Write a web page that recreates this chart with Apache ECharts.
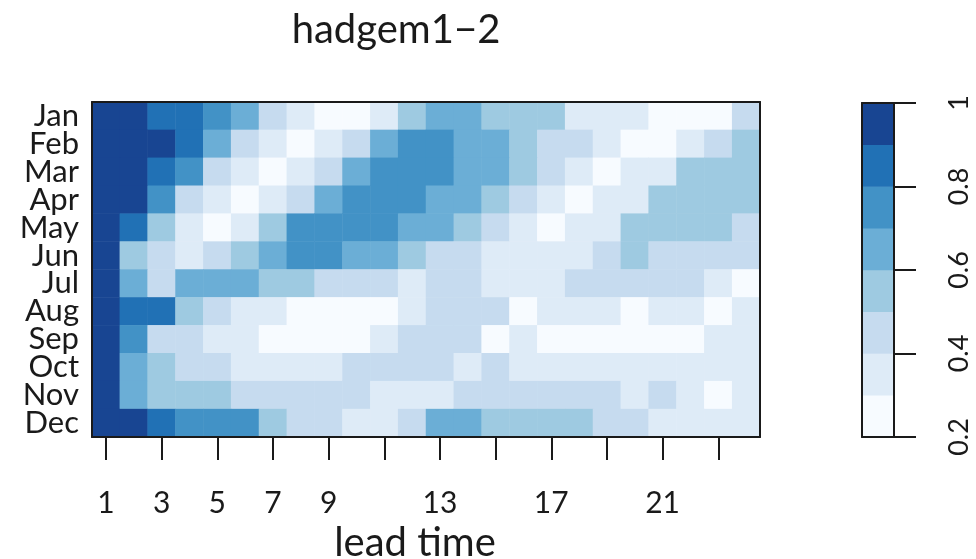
<!DOCTYPE html>
<html>
<head>
<meta charset="utf-8">
<script src="https://cdn.jsdelivr.net/npm/echarts/dist/echarts.min.js"></script>
<style>
  html, body { margin: 0; padding: 0; background: #fff; }
  #chart { width: 976px; height: 559px; }
</style>
</head>
<body>
<div id="chart"></div>
<script>
// Skill score by start month (rows) and lead time (columns)
const months = ['Jan', 'Feb', 'Mar', 'Apr', 'May', 'Jun', 'Jul', 'Aug', 'Sep', 'Oct', 'Nov', 'Dec'];
const leadTimes = Array.from({ length: 24 }, (_, i) => String(i + 1));
const shownLeadLabels = ['1', '3', '5', '7', '9', '13', '17', '21'];
const colorbarTicks = [0.2, 0.4, 0.6, 0.8, 1];

const skill = [
  [0.95,0.95,0.85,0.85,0.75,0.65,0.45,0.35,0.25,0.25,0.35,0.55,0.65,0.65,0.55,0.55,0.55,0.35,0.35,0.35,0.25,0.25,0.25,0.45],
  [0.95,0.95,0.95,0.85,0.65,0.45,0.35,0.25,0.35,0.45,0.65,0.75,0.75,0.65,0.65,0.55,0.45,0.45,0.35,0.25,0.25,0.35,0.45,0.55],
  [0.95,0.95,0.85,0.75,0.45,0.35,0.25,0.35,0.45,0.65,0.75,0.75,0.75,0.65,0.65,0.55,0.45,0.35,0.25,0.35,0.35,0.55,0.55,0.55],
  [0.95,0.95,0.75,0.45,0.35,0.25,0.35,0.45,0.65,0.75,0.75,0.75,0.65,0.65,0.55,0.45,0.35,0.25,0.35,0.35,0.55,0.55,0.55,0.55],
  [0.95,0.85,0.55,0.35,0.25,0.35,0.55,0.75,0.75,0.75,0.75,0.65,0.65,0.55,0.45,0.35,0.25,0.35,0.35,0.55,0.55,0.55,0.55,0.45],
  [0.95,0.55,0.45,0.35,0.45,0.55,0.65,0.75,0.75,0.65,0.65,0.55,0.45,0.45,0.35,0.35,0.35,0.35,0.45,0.55,0.45,0.45,0.45,0.45],
  [0.95,0.65,0.45,0.65,0.65,0.65,0.55,0.55,0.45,0.45,0.45,0.35,0.45,0.45,0.35,0.35,0.35,0.45,0.45,0.45,0.45,0.45,0.35,0.25],
  [0.95,0.85,0.85,0.55,0.45,0.35,0.35,0.25,0.25,0.25,0.25,0.35,0.45,0.45,0.45,0.25,0.35,0.35,0.35,0.25,0.35,0.35,0.25,0.35],
  [0.95,0.75,0.45,0.45,0.35,0.35,0.25,0.25,0.25,0.25,0.35,0.45,0.45,0.45,0.25,0.35,0.25,0.25,0.25,0.25,0.25,0.25,0.35,0.35],
  [0.95,0.65,0.55,0.45,0.45,0.35,0.35,0.35,0.35,0.45,0.45,0.45,0.45,0.35,0.45,0.35,0.35,0.35,0.35,0.35,0.35,0.35,0.35,0.35],
  [0.95,0.65,0.55,0.55,0.55,0.45,0.45,0.45,0.45,0.45,0.35,0.35,0.35,0.45,0.45,0.45,0.45,0.45,0.45,0.35,0.45,0.35,0.25,0.35],
  [0.95,0.95,0.85,0.75,0.75,0.75,0.55,0.45,0.45,0.35,0.35,0.45,0.65,0.65,0.55,0.55,0.55,0.55,0.45,0.45,0.35,0.35,0.35,0.35]
];

// Colour classes, 0.2 to 1 in steps of 0.1
const binEdges = [0.2, 0.3, 0.4, 0.5, 0.6, 0.7, 0.8, 0.9, 1.0];
const binColors = ['#F7FBFF', '#DEEBF7', '#C6DBEF', '#9ECAE1', '#6BAED6', '#4292C6', '#2171B5', '#184592'];

const FONT = 'Lato, "Noto Sans", sans-serif';
const INK = '#1a1a1a';

const heatData = [];
skill.forEach((row, r) => row.forEach((v, c) => heatData.push([c, r, v])));

const binMids = binEdges.slice(0, -1).map((e, i) => +((e + binEdges[i + 1]) / 2).toFixed(2));
const barData = binMids.map((m, i) => [0, i, m]);

const pieces = binColors.map((color, i) => ({ gte: binEdges[i], lt: binEdges[i + 1], color }));
pieces[pieces.length - 1].lte = 1.0; delete pieces[pieces.length - 1].lt;

const boxLine = { show: true, lineStyle: { color: INK, width: 2 } };

const chart = echarts.init(document.getElementById('chart'), null, { renderer: 'canvas' });
chart.setOption({
  backgroundColor: '#fff',
  animation: false,
  title: {
    text: 'hadgem1\u22122',
    left: 391, top: 5, textAlign: 'center',
    textStyle: { fontFamily: FONT, fontSize: 40, fontWeight: 'normal', color: INK }
  },
  grid: [
    { left: 92, top: 102, width: 668, height: 335, containLabel: false, outerBoundsMode: 'none' },
    { left: 862, top: 103, width: 32, height: 334, containLabel: false, outerBoundsMode: 'none' }
  ],
  visualMap: {
    type: 'piecewise', show: false, seriesIndex: [0, 1], dimension: 2, pieces
  },
  xAxis: [
    {
      type: 'category', gridIndex: 0, data: leadTimes, position: 'bottom', z: 10,
      axisLine: boxLine,
      axisTick: { show: true, alignWithLabel: true, length: 23, interval: (i) => i % 2 === 0, lineStyle: { color: INK, width: 2 } },
      axisLabel: {
        interval: (i, v) => shownLeadLabels.includes(v),
        margin: 51, fontFamily: FONT, fontSize: 30, color: INK
      },
      name: 'lead time', nameLocation: 'middle', nameGap: 82,
      nameTextStyle: { fontFamily: FONT, fontSize: 40, color: INK, padding: [0, 22, 0, 0] },
      splitLine: { show: false }
    },
    {
      type: 'category', gridIndex: 0, data: leadTimes, position: 'top', z: 10,
      axisLine: boxLine, axisTick: { show: false }, axisLabel: { show: false }, splitLine: { show: false }
    },
    {
      type: 'category', gridIndex: 1, data: [''], position: 'bottom', z: 10,
      axisLine: boxLine, axisTick: { show: false }, axisLabel: { show: false }
    },
    {
      type: 'category', gridIndex: 1, data: [''], position: 'top', z: 10,
      axisLine: boxLine, axisTick: { show: false }, axisLabel: { show: false }
    }
  ],
  yAxis: [
    {
      type: 'category', gridIndex: 0, data: months, inverse: true, position: 'left', z: 10,
      axisLine: boxLine, axisTick: { show: false },
      axisLabel: { interval: 0, margin: 13, fontFamily: FONT, fontSize: 31, lineHeight: 28, color: INK }
    },
    {
      type: 'category', gridIndex: 0, data: months, inverse: true, position: 'right', z: 10,
      axisLine: boxLine, axisTick: { show: false }, axisLabel: { show: false }
    },
    {
      type: 'category', gridIndex: 1, data: binMids.map(String), position: 'left', z: 10,
      axisLine: boxLine, axisTick: { show: false }, axisLabel: { show: false }
    },
    {
      type: 'value', gridIndex: 1, min: 0.2, max: 1, interval: 0.2, position: 'right', z: 10,
      axisLine: boxLine,
      axisTick: { show: true, inside: false, length: 22, lineStyle: { color: INK, width: 2 } },
      axisLabel: {
        rotate: 90, margin: 52, fontFamily: FONT, fontSize: 27, color: INK,
        formatter: (v) => (colorbarTicks.some(t => Math.abs(t - v) < 1e-9) ? String(+v.toFixed(1)) : '')
      },
      splitLine: { show: false }
    }
  ],
  series: [
    {
      type: 'heatmap', xAxisIndex: 0, yAxisIndex: 0, data: heatData,
      itemStyle: { borderWidth: 0 }, emphasis: { disabled: true }
    },
    {
      type: 'heatmap', xAxisIndex: 2, yAxisIndex: 2, data: barData,
      itemStyle: { borderWidth: 0 }, emphasis: { disabled: true }
    }
  ]
});
</script>
</body>
</html>
